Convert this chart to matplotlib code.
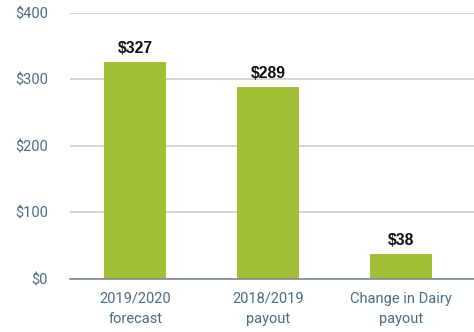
import matplotlib
matplotlib.use("Agg")
import matplotlib.pyplot as plt

categories = ["2019/2020\nforecast", "2018/2019\npayout", "Change in Dairy\npayout"]
values = [327, 289, 38]
yticks = [0, 100, 200, 300, 400]
ytick_labels = ["$0", "$100", "$200", "$300", "$400"]

plt.rcParams["font.family"] = ["Roboto", "DejaVu Sans"]

bar_color = "#A2C037"
label_color = "#4D6B85"

fig = plt.figure(figsize=(4.74, 3.32), dpi=100)
ax = fig.add_axes([0.148, 0.1596, 0.852, 0.8014])

x = list(range(len(categories)))
bars = ax.bar(x, values, width=0.466, color=bar_color, zorder=3)

for b, v in zip(bars, values):
    ax.annotate(f"${v}", (b.get_x() + b.get_width() / 2, v),
                xytext=(0, 4), textcoords="offset points",
                ha="center", va="bottom", fontsize=11.3, fontweight="bold",
                family=["Liberation Sans", "DejaVu Sans"], color="#111111")

ax.set_ylim(0, 400)
ax.set_xlim(-0.489, 2.549)
ax.set_yticks(yticks)
ax.set_yticklabels(ytick_labels)
ax.set_xticks(x)
ax.set_xticklabels(categories, linespacing=1.55)

ax.tick_params(axis="y", length=0, pad=16, labelsize=10.5, labelcolor=label_color)
ax.tick_params(axis="x", length=0, pad=9, labelsize=10.5, labelcolor=label_color)

ax.grid(axis="y", color="#C9CED4", linewidth=1.2, zorder=0)
for s in ["top", "right", "left"]:
    ax.spines[s].set_visible(False)
ax.spines["bottom"].set_color("#7E8894")
ax.spines["bottom"].set_linewidth(1.2)
ax.spines["bottom"].set_zorder(4)

fig.savefig("out.png", dpi=100)
